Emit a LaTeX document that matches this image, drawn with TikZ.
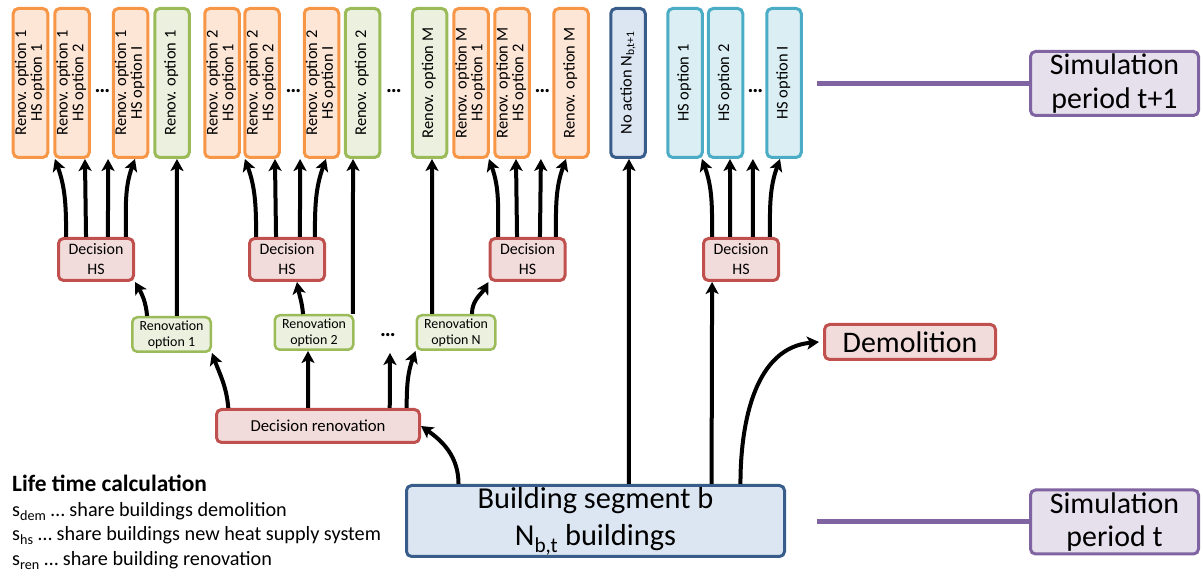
\documentclass[tikz,border=0pt]{standalone}
\usepackage{fontspec}
\setmainfont{Carlito}
\usepackage{graphicx}
\usepackage{xcolor}
\usetikzlibrary{arrows.meta}

\definecolor{orangeline}{HTML}{F79646}
\definecolor{orangefill}{HTML}{FDE6D6}
\definecolor{greenline}{HTML}{9BBB59}
\definecolor{greenfill}{HTML}{EBF1DE}
\definecolor{redline}{HTML}{C0504D}
\definecolor{redfill}{HTML}{F2DCDB}
\definecolor{navyline}{HTML}{385D8A}
\definecolor{bluefill}{HTML}{DCE6F2}
\definecolor{cyanline}{HTML}{4BACC6}
\definecolor{cyanfill}{HTML}{DAEEF3}
\definecolor{purpleline}{HTML}{8064A2}
\definecolor{purplefill}{HTML}{E5E0EC}

\newcommand{\vlab}[1]{\rotatebox{90}{\begin{tabular}{@{}c@{}}#1\end{tabular}}}

\tikzset{
	box/.style={rounded corners=5bp, line width=3bp, inner sep=0pt, align=center},
	vbox/.style={box, minimum width=34.5bp, minimum height=149bp, font=\fontsize{16.5}{14.5}\selectfont},
	renhs/.style={vbox, draw=orangeline, fill=orangefill},
	renonly/.style={vbox, draw=greenline, fill=greenfill},
	noact/.style={vbox, draw=navyline, fill=bluefill},
	hsonly/.style={vbox, draw=cyanline, fill=cyanfill},
	dechs/.style={box, draw=redline, fill=redfill, minimum width=75bp, minimum height=42bp, font=\fontsize{16}{20}\selectfont},
	renopt/.style={box, line width=2.5bp, draw=greenline, fill=greenfill, minimum width=78.5bp, minimum height=34.5bp, font=\fontsize{14}{16}\selectfont},
	simper/.style={box, draw=purpleline, fill=purplefill, minimum width=168bp, minimum height=64bp, font=\fontsize{30}{34}\selectfont},
	simline/.style={draw=purpleline, line width=5bp},
	dots/.style={inner sep=0pt, font=\fontsize{22}{22}\selectfont\bfseries},
	legend/.style={anchor=base west, inner sep=0pt, font=\fontsize{20.3}{24}\selectfont},
	arr/.style={-{Stealth[length=12bp,width=13bp,inset=3bp]}, line width=4bp}
}

\begin{document}
\begin{tikzpicture}[x=1bp,y=1bp]
	\useasboundingbox (0,0) rectangle (1203,578);

	\node[renhs] (t1) at (30.5,495) {\vlab{Renov. option 1\\HS option 1}};
	\node[renhs] (t2) at (72,495) {\vlab{Renov. option 1\\HS option 2}};
	\node[renhs] (t3) at (130.5,495) {\vlab{Renov. option 1\\HS option I}};
	\node[renonly] (t4) at (172,495) {\vlab{Renov. option 1}};
	\node[renhs] (t5) at (222,495) {\vlab{Renov. option 2\\HS option 1}};
	\node[renhs] (t6) at (262,495) {\vlab{Renov. option 2\\HS option 2}};
	\node[renhs] (t7) at (321.5,495) {\vlab{Renov. option 2\\HS option I}};
	\node[renonly] (t8) at (362.5,495) {\vlab{Renov. option 2}};
	\node[renonly] (t9) at (429.5,495) {\vlab{Renov. option M}};
	\node[renhs] (t10) at (471,495) {\vlab{Renov. option M\\HS option 1}};
	\node[renhs] (t11) at (512,495) {\vlab{Renov. option M\\HS option 2}};
	\node[renhs] (t12) at (571,495) {\vlab{Renov. option M}};
	\node[noact] (t13) at (628,495) {\vlab{No action N\textsubscript{b,t+1}}};
	\node[hsonly] (t14) at (685,495) {\vlab{HS option 1}};
	\node[hsonly] (t15) at (725.5,495) {\vlab{HS option 2}};
	\node[hsonly] (t16) at (784,495) {\vlab{HS option I}};

	\node[dots] (dt1) at (102.5,487) {…};
	\node[dots] (dt2) at (293.5,487) {…};
	\node[dots] (dt3) at (394,487) {…};
	\node[dots] (dt4) at (542.5,487) {…};
	\node[dots] (dt5) at (755.5,487) {…};

	\node[dechs] (d1) at (96,318.5) {Decision\\HS};
	\node[dechs] (d2) at (287,318.5) {Decision\\HS};
	\node[dechs] (d3) at (527.5,318.5) {Decision\\HS};
	\node[dechs] (d4) at (741,318.5) {Decision\\HS};

	\node[renopt] (r1) at (171.5,243.5) {Renovation\\option 1};
	\node[renopt] (r2) at (314,245.5) {Renovation\\option 2};
	\node[renopt] (rn) at (456,245.5) {Renovation\\option N};
	\node[dots] (dr) at (388,243) {…};
	\coordinate (rdots) at (390,225);

	\node[dechs, minimum width=203bp, minimum height=33bp, font=\fontsize{16.8}{20}\selectfont] (dren) at (318,152) {Decision renovation};
	\node[box, draw=navyline, fill=bluefill, minimum width=378bp, minimum height=71bp,
		font=\fontsize{30.5}{38}\selectfont] (bld) at (595.5,57) {Building segment b\\N\textsubscript{b,t} buildings};
	\node[box, draw=redline, fill=redfill, minimum width=171bp, minimum height=35bp,
		font=\fontsize{30}{34}\selectfont] (dem) at (910,236) {Demolition};

	\node[simper] (sima) at (1114.5,494.5) {Simulation\\period t+1};
	\node[simper] (simb) at (1114.5,56) {Simulation\\period t};
	\coordinate (la) at (817,494.5);
	\coordinate (lb) at (817,56);
	\draw[simline] (la) -- (sima.west);
	\draw[simline] (lb) -- (simb.west);

	\draw[arr] ([xshift=-30]d1.north) to[out=90,in=-70] ([xshift=24.5]t1.south);
	\draw[arr] ([xshift=-10]d1.north) -- ([xshift=13]t2.south);
	\draw[arr] ([xshift=12]d1.north) -- ([xshift=-22.5]t3.south);
	\draw[arr] ([xshift=30]d1.north) to[out=90,in=-110] ([xshift=4.5]t3.south);

	\draw[arr] ([xshift=-31]d2.north) to[out=90,in=-70] ([xshift=23]t5.south);
	\draw[arr] ([xshift=-11]d2.north) -- ([xshift=13]t6.south);
	\draw[arr] ([xshift=13]d2.north) -- ([xshift=-21.5]t7.south);
	\draw[arr] ([xshift=28]d2.north) to[out=90,in=-110] ([xshift=4.5]t7.south);

	\draw[arr] ([xshift=-29.5]d3.north) to[out=90,in=-70] ([xshift=18]t10.south);
	\draw[arr] ([xshift=-10.5]d3.north) -- ([xshift=4]t11.south);
	\draw[arr] ([xshift=12.5]d3.north) -- ([xshift=29]t11.south);
	\draw[arr] ([xshift=28.5]d3.north) to[out=90,in=-110] ([xshift=-5]t12.south);

	\draw[arr] ([xshift=-29]d4.north) to[out=90,in=-70] ([xshift=17]t14.south);
	\draw[arr] ([xshift=-11]d4.north) -- ([xshift=4.5]t15.south);
	\draw[arr] ([xshift=12]d4.north) -- ([xshift=27.5]t15.south);
	\draw[arr] ([xshift=29]d4.north) to[out=90,in=-110] ([xshift=-4]t16.south);

	\draw[arr] ([xshift=-24.5]r1.north) to[out=95,in=-60] (d1.south east);
	\draw[arr] ([xshift=5.5]r1.north) -- ([xshift=5]t4.south);
	\draw[arr] ([xshift=-11]r2.north) to[out=95,in=-80] ([xshift=10]d2.south);
	\draw[arr] ([xshift=39]r2.north) -- ([xshift=-9.5]t8.south);
	\draw[arr] ([xshift=-24]rn.north) -- ([xshift=2.5]t9.south);
	\draw[arr] ([xshift=16]rn.north) to[out=90,in=-120] (d3.south west);

	\draw[arr] ([xshift=-90]dren.north) to[out=95,in=-70] (r1.south east);
	\draw[arr] ([xshift=-10]dren.north) -- ([xshift=-6]r2.south);
	\draw[arr] ([xshift=72]dren.north) -- (rdots);
	\draw[arr] ([xshift=89]dren.north) to[out=90,in=-110] (rn.south west);

	\draw[arr] ([xshift=-137.5]bld.north) to[out=90,in=-35] (dren.east);
	\draw[arr] ([xshift=33.5]bld.north) -- ([xshift=1]t13.south);
	\draw[arr] ([xshift=116.5]bld.north) -- ([xshift=-29]d4.south);
	\draw[arr] ([xshift=145.5]bld.north) to[out=90,in=185] ([xshift=-4]dem.west);

	\node[legend, font=\fontsize{23.5}{24}\selectfont\bfseries] (lt0) at (12,86) {Life time calculation};
	\node[legend] (lt1) at (12,61) {s\textsubscript{dem} … share buildings demolition};
	\node[legend] (lt2) at (12,37) {s\textsubscript{hs} … share buildings new heat supply system};
	\node[legend] (lt3) at (12,12) {s\textsubscript{ren} … share building renovation};
\end{tikzpicture}
\end{document}
